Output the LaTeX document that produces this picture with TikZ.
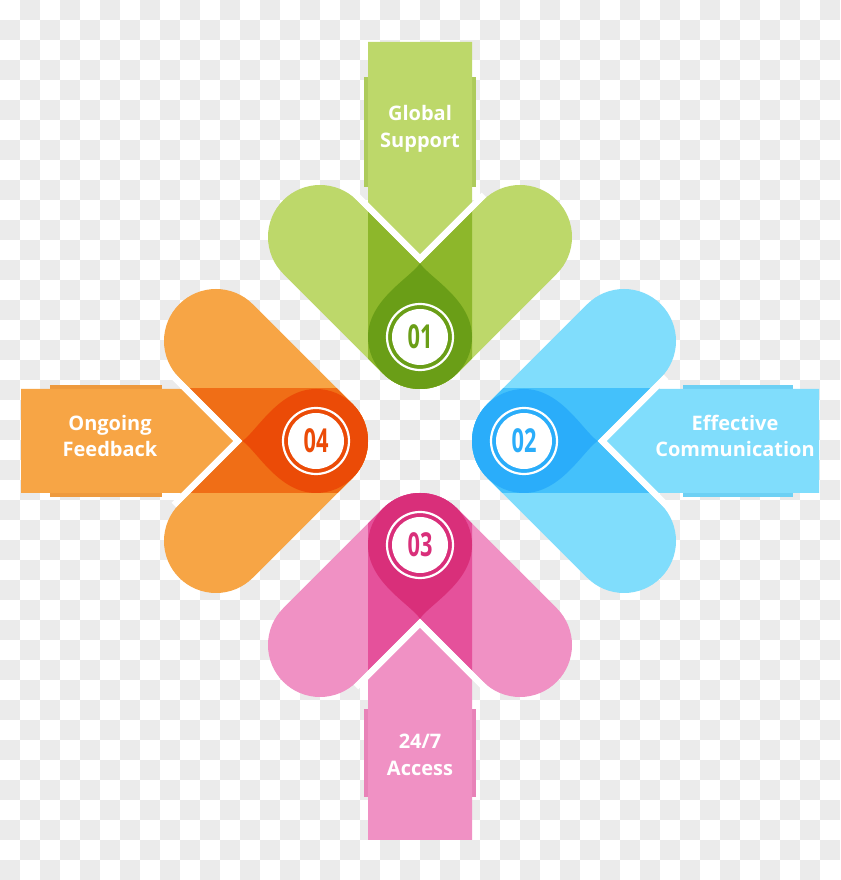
\documentclass[tikz,border=0pt]{standalone}
\usepackage{fontspec}
\usepackage{graphicx}
\setmainfont{Open Sans}
\definecolor{chk}{HTML}{EBEBEB}
\definecolor{gL}{HTML}{BDD86A}
\definecolor{gM}{HTML}{8DB72B}
\definecolor{gD}{HTML}{6A9E17}
\definecolor{gS}{HTML}{ADCB5B}
\definecolor{bL}{HTML}{80DDFC}
\definecolor{bM}{HTML}{44C1FB}
\definecolor{bD}{HTML}{2AADFA}
\definecolor{bS}{HTML}{6DD0F4}
\definecolor{pL}{HTML}{F091C4}
\definecolor{pM}{HTML}{E5519B}
\definecolor{pD}{HTML}{D92F7A}
\definecolor{pS}{HTML}{E882B8}
\definecolor{oL}{HTML}{F7A545}
\definecolor{oM}{HTML}{F06E16}
\definecolor{oD}{HTML}{EB4B07}
\definecolor{oS}{HTML}{EE9A3E}
\tikzset{
  pillline/.style={line width=104pt, line cap=round},
  labeltext/.style={text=white, align=center, font=\fontsize{20}{26.5}\selectfont\bfseries, inner sep=0pt},
  numtext/.style={inner sep=0pt, font=\fontsize{33}{33}\selectfont\bfseries}
}
% #1 angle, #2 light, #3 medium, #4 dark, #5 strip, #6 number, #7 node name, #8 #9 strip range
\newcommand\drawarm[9]{%
\begin{scope}[shift={(420,439)},rotate=#1]
  % side strips of the tab
  \fill[#5] (-56,#8) rectangle (-52,#9);
  \fill[#5] (52,#8) rectangle (56,#9);
  % tab
  \fill[#2] (-52,399) -- (52,399) -- (52,238.6) -- (0,186.6) -- (-52,238.6) -- cycle;
  % pills
  \draw[#2, pillline] (0,104) -- (-100,204);
  \draw[#2, pillline] (0,104) -- (100,204);
  % overlap with the central band
  \begin{scope}
    \clip (-52,0) rectangle (52,300);
    \draw[#3, pillline] (0,104) -- (-100,204);
    \draw[#3, pillline] (0,104) -- (100,204);
  \end{scope}
  % white gap between tab and pills
  \draw[white, line width=6.4pt] (-64,246.1) -- (0,182.1) -- (64,246.1);
  % drop
  \fill[#4] (0,177.6) .. controls (-10,163) and (-52,141) .. (-52,104)
     arc[start angle=180, end angle=360, radius=52]
     .. controls (52,141) and (10,163) .. cycle;
  % ring and disc
  \draw[white, line width=2.2pt] (0,104) circle (33);
  \fill[white] (0,104) circle (28);
  \node[numtext, text=#4] (#7) at (0,104) {\scalebox{0.66}[1]{#6}};
\end{scope}}

\begin{document}
\begin{tikzpicture}[x=1pt,y=1pt]
\useasboundingbox (0,0) rectangle (840,880);
% checkerboard background
\fill[white] (0,0) rectangle (840,880);
\foreach \j in {0,...,43}{
  \foreach \i in {1,3,...,41}{
    \pgfmathsetmacro\xx{(\i-mod(\j,2))*20}
    \fill[chk] (\xx,{860-\j*20}) rectangle ++(20,20);
  }
}
\drawarm{0}{gL}{gM}{gD}{gS}{01}{n1}{254}{364}
\drawarm{-90}{bL}{bM}{bD}{bS}{02}{n2}{263}{373}
\drawarm{180}{pL}{pM}{pD}{pS}{03}{n3}{268}{356}
\drawarm{90}{oL}{oM}{oD}{oS}{04}{n4}{258}{370}
\node[labeltext] (t1) at (420,751) {Global\\Support};
\node[labeltext] (t2) at (735,444) {Effective\\Communication};
\node[labeltext] (t3) at (420,125) {24/7\\Access};
\node[labeltext] (t4) at (110,444) {Ongoing\\Feedback};
\end{tikzpicture}
\end{document}
